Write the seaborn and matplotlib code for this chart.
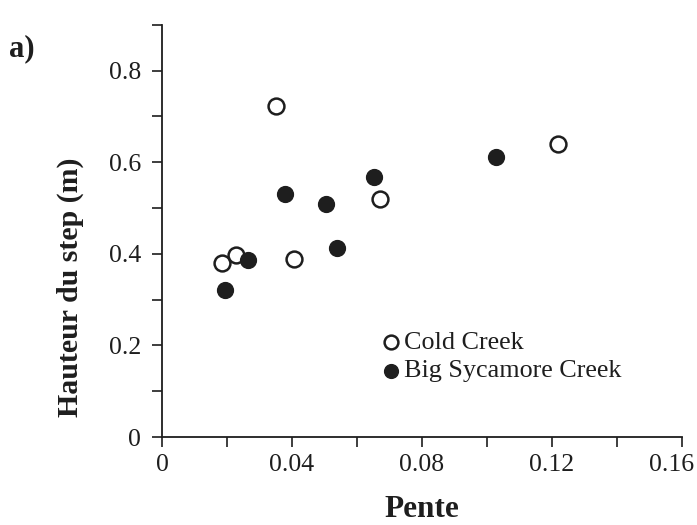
import matplotlib
matplotlib.use("Agg")
import matplotlib.pyplot as plt
import matplotlib.transforms as mtransforms
import seaborn as sns
import pandas as pd
from matplotlib.ticker import MultipleLocator

# Data
cold_x = [0.0184, 0.0229, 0.0351, 0.0407, 0.0670, 0.1218]
cold_y = [0.379, 0.397, 0.722, 0.389, 0.520, 0.640]
big_x = [0.0193, 0.0264, 0.0379, 0.0505, 0.0539, 0.0653, 0.1028]
big_y = [0.320, 0.387, 0.531, 0.509, 0.413, 0.568, 0.611]
series_names = ["Cold Creek", "Big Sycamore Creek"]
x_ticks = [0, 0.04, 0.08, 0.12, 0.16]
x_tick_labels = ["0", "0.04", "0.08", "0.12", "0.16"]
y_ticks = [0, 0.2, 0.4, 0.6, 0.8]
y_tick_labels = ["0", "0.2", "0.4", "0.6", "0.8"]

df = pd.DataFrame({
    "Pente": cold_x + big_x,
    "Hauteur": cold_y + big_y,
    "Série": [series_names[0]] * len(cold_x) + [series_names[1]] * len(big_x),
})

sns.set_style("white")
plt.rcParams["font.family"] = ["Liberation Serif", "DejaVu Serif"]

fig = plt.figure(figsize=(6.97, 5.25), dpi=100)
ax = fig.add_axes([0.2324, 0.1676, 0.746, 0.785])

ink = "#1e1e1e"
sns.scatterplot(data=df[df["Série"] == series_names[0]], x="Pente", y="Hauteur",
                ax=ax, s=130, facecolor="white", edgecolor=ink, linewidth=1.8,
                label=series_names[0], zorder=3)
sns.scatterplot(data=df[df["Série"] == series_names[1]], x="Pente", y="Hauteur",
                ax=ax, s=130, color=ink, edgecolor=ink, linewidth=1.0,
                label=series_names[1], zorder=3)

ax.set_xlim(0, 0.16)
ax.set_ylim(0, 0.9)
ax.set_xticks(x_ticks)
xlabs = ax.set_xticklabels(x_tick_labels)
ax.set_yticks(y_ticks)
ax.set_yticklabels(y_tick_labels)
ax.xaxis.set_minor_locator(MultipleLocator(0.02))
ax.yaxis.set_minor_locator(MultipleLocator(0.1))
ax.tick_params(which="both", direction="out", length=7, width=1.2, color=ink,
               labelsize=18.5, labelcolor=ink, bottom=True, left=True)
ax.tick_params(axis="x", pad=5)
ax.tick_params(axis="y", pad=8)

# shift last x tick label a little left so it stays inside the figure
shift = mtransforms.ScaledTranslation(-10 / 100, 0, fig.dpi_scale_trans)
xlabs[-1].set_transform(xlabs[-1].get_transform() + shift)

for side in ["top", "right"]:
    ax.spines[side].set_visible(False)
for side in ["left", "bottom"]:
    ax.spines[side].set_color(ink)
    ax.spines[side].set_linewidth(1.3)

ax.set_xlabel("Pente", fontsize=22.5, fontweight="bold", color=ink, labelpad=14)
ax.set_ylabel("Hauteur du step (m)", fontsize=21.5, fontweight="bold", color=ink)
ax.yaxis.set_label_coords(-0.15, 0.364)

leg = ax.legend(loc="upper left", bbox_to_anchor=(0.426, 0.258), frameon=False,
                fontsize=18.8, handletextpad=0.2, handlelength=0.6,
                labelspacing=0.2, borderaxespad=0, borderpad=0,
                markerscale=0.87)
for t in leg.get_texts():
    t.set_color(ink)

fig.text(0.013, 0.893, "a)", fontsize=22, fontweight="bold", color=ink)

fig.savefig("out.png", dpi=100, facecolor="white")
